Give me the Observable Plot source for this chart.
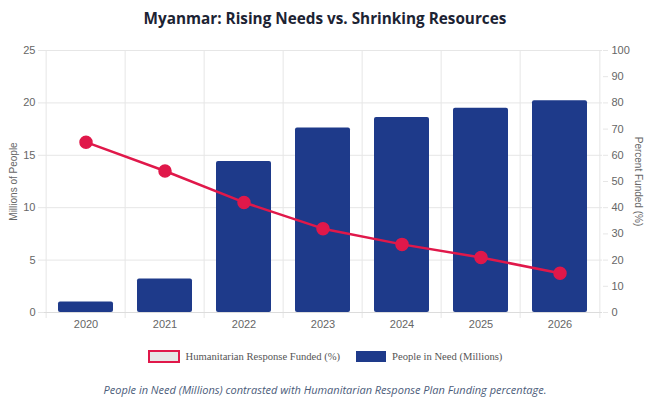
<!DOCTYPE html>
<html><head><meta charset="utf-8">
<script src="https://cdn.jsdelivr.net/npm/d3@7"></script>
<script src="https://cdn.jsdelivr.net/npm/@observablehq/plot@0.6"></script>
<style>
body{margin:0;background:#fff;width:665px;height:408px;overflow:hidden;font-family:"Liberation Sans",Arial,sans-serif}
#title{height:38px;line-height:36px;text-align:center;font-family:"Open Sans",sans-serif;font-weight:700;font-size:15.3px;color:#1c2333;padding-right:15px}
#chart svg{display:block}
#legend{display:flex;justify-content:center;align-items:center;margin-top:14px;font-family:"Liberation Serif",serif;font-size:10.6px;color:#555;height:14px;padding-right:15px}
.sw{width:28px;height:9px;margin-right:6px;display:inline-block}
.item{display:flex;align-items:center;margin:0 8px}
#caption{text-align:center;font-family:"Open Sans",sans-serif;font-style:italic;font-size:11px;color:#4b5c7a;margin-top:19px;padding-right:15px}
</style></head><body>
<div id="title">Myanmar: Rising Needs vs. Shrinking Resources</div>
<div id="chart"></div>
<div id="legend">
 <div class="item"><span class="sw" style="background:#e6e6e6;border:2px solid #e0184a"></span>Humanitarian Response Funded (%)</div>
 <div class="item"><span class="sw" style="background:#1e3a8a;border:1px solid #1e3a8a"></span>People in Need (Millions)</div>
</div>
<div id="caption">People in Need (Millions) contrasted with Humanitarian Response Plan Funding percentage.</div>
<script>
const years = ["2020","2021","2022","2023","2024","2025","2026"];
const peopleInNeed = [1.0, 3.2, 14.4, 17.6, 18.6, 19.5, 20.2];
const pctFunded = [65, 54, 42, 32, 26, 21, 15];
const leftTicks = [0,5,10,15,20,25];
const rightTicks = [0,10,20,30,40,50,60,70,80,90,100];

const data = years.map((y,i)=>({year:y, pin:peopleInNeed[i], pct:pctFunded[i]}));
const W = 665, ML = 44, MR = 63;
const step = (W - ML - MR) / years.length;
const grid = "#e6e6e6";
const red = "#e0184a", blue = "#1e3a8a";

const chart = Plot.plot({
  width: W, height: 297,
  marginLeft: ML, marginRight: MR, marginTop: 12, marginBottom: 23,
  style: {fontFamily: '"Liberation Sans", Arial, sans-serif', fontSize: "11px"},
  x: {domain: years, type: "band", paddingInner: 0.3, paddingOuter: 0.15},
  y: {domain: [0, 25]},
  marks: [
    Plot.gridY(leftTicks, {stroke: grid, strokeOpacity: 1}),
    Plot.ruleX(years, {x: d=>d, dx: -step/2, stroke: grid, insetBottom: -6}),
    Plot.ruleX([years[years.length-1]], {x: d=>d, dx: step/2, stroke: grid, insetBottom: -6}),
    Plot.ruleY([0], {stroke: "#dcdcdc"}),
    Plot.axisY(leftTicks, {anchor: "left", tickSize: 6, tickPadding: 3, stroke: grid, fill: "#666", label: null, fontSize: 11}),
    Plot.axisY(rightTicks.map(v=>v/4), {anchor: "right", tickSize: 5, tickPadding: 4, stroke: grid, fill: "#666", tickFormat: d=>String(Math.round(d*4)), label: null, fontSize: 11}),
    Plot.axisX({tickSize: 0, tickPadding: 8, fill: "#666", label: null, fontSize: 11}),
    Plot.barY(data, {x: "year", y: "pin", fill: blue, rx: 2}),
    Plot.line(data, {x: "year", y: d=>d.pct/4, stroke: red, strokeWidth: 2.5}),
    Plot.dot(data, {x: "year", y: d=>d.pct/4, r: 6, fill: red, stroke: red}),
    Plot.text(["Millions of People"], {frameAnchor: "left", textAnchor: "middle", rotate: -90, dx: -31, fill: "#666", fontSize: 10}),
    Plot.text(["Percent Funded (%)"], {frameAnchor: "right", textAnchor: "middle", rotate: 90, dx: 36, fill: "#666", fontSize: 10})
  ]
});
document.getElementById("chart").appendChild(chart);
</script>
</body></html>
